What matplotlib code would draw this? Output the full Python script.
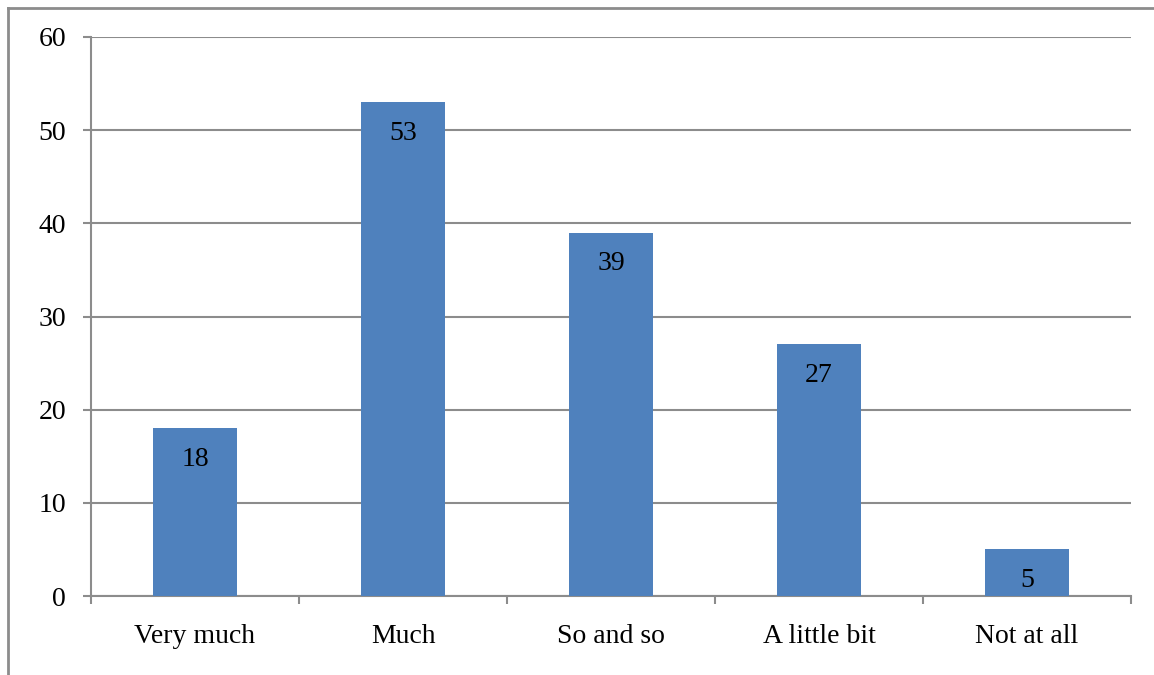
import matplotlib
matplotlib.use("Agg")
import matplotlib.pyplot as plt
from matplotlib.lines import Line2D
import numpy as np

categories = ["Very much", "Much", "So and so", "A little bit", "Not at all"]
values = [18, 53, 39, 27, 5]
yticks = [0, 10, 20, 30, 40, 50, 60]

plt.rcParams['font.family'] = ['Liberation Serif', 'DejaVu Serif']
FS = 20

fig = plt.figure(figsize=(11.54, 6.75), dpi=100)
ax = fig.add_axes([91/1154, 1-596/675, (1131-91)/1154, (596-37)/675])

gray = '#8c8c8c'
x = np.arange(len(categories))
bars = ax.bar(x, values, width=0.4, color='#4F81BD', zorder=3)
for xi, v in zip(x, values):
    ax.annotate(str(v), (xi, v), xytext=(0, -31), textcoords='offset pixels',
                ha='center', va='center', fontsize=FS, color='black', zorder=4)

ax.set_xlim(-0.5, len(categories) - 0.5)
ax.set_ylim(0, 60)
ax.set_yticks(yticks)
ax.set_yticklabels([str(t) for t in yticks], fontsize=FS)
ax.set_xticks(x)
ax.set_xticklabels(categories, fontsize=FS)
ax.set_xticks(np.arange(-0.5, len(categories)), minor=True)
ax.tick_params(axis='x', which='major', length=0, pad=20.5)
ax.tick_params(axis='x', which='minor', length=6, width=1.5, color=gray, direction='out')
ax.tick_params(axis='y', length=6, width=1.5, color=gray, pad=12)
ax.yaxis.grid(True, color=gray, linewidth=1.5, zorder=0)
for s in ['top', 'right']:
    ax.spines[s].set_visible(False)
for s in ['left', 'bottom']:
    ax.spines[s].set_color(gray)
    ax.spines[s].set_linewidth(1.5)

# outer frame lines (top and left)
fig.add_artist(Line2D([8/1154, 1], [1-8/675, 1-8/675], color=gray, linewidth=2, transform=fig.transFigure))
fig.add_artist(Line2D([8/1154, 8/1154], [0, 1-8/675], color=gray, linewidth=2, transform=fig.transFigure))

fig.savefig("out.png", dpi=100)
